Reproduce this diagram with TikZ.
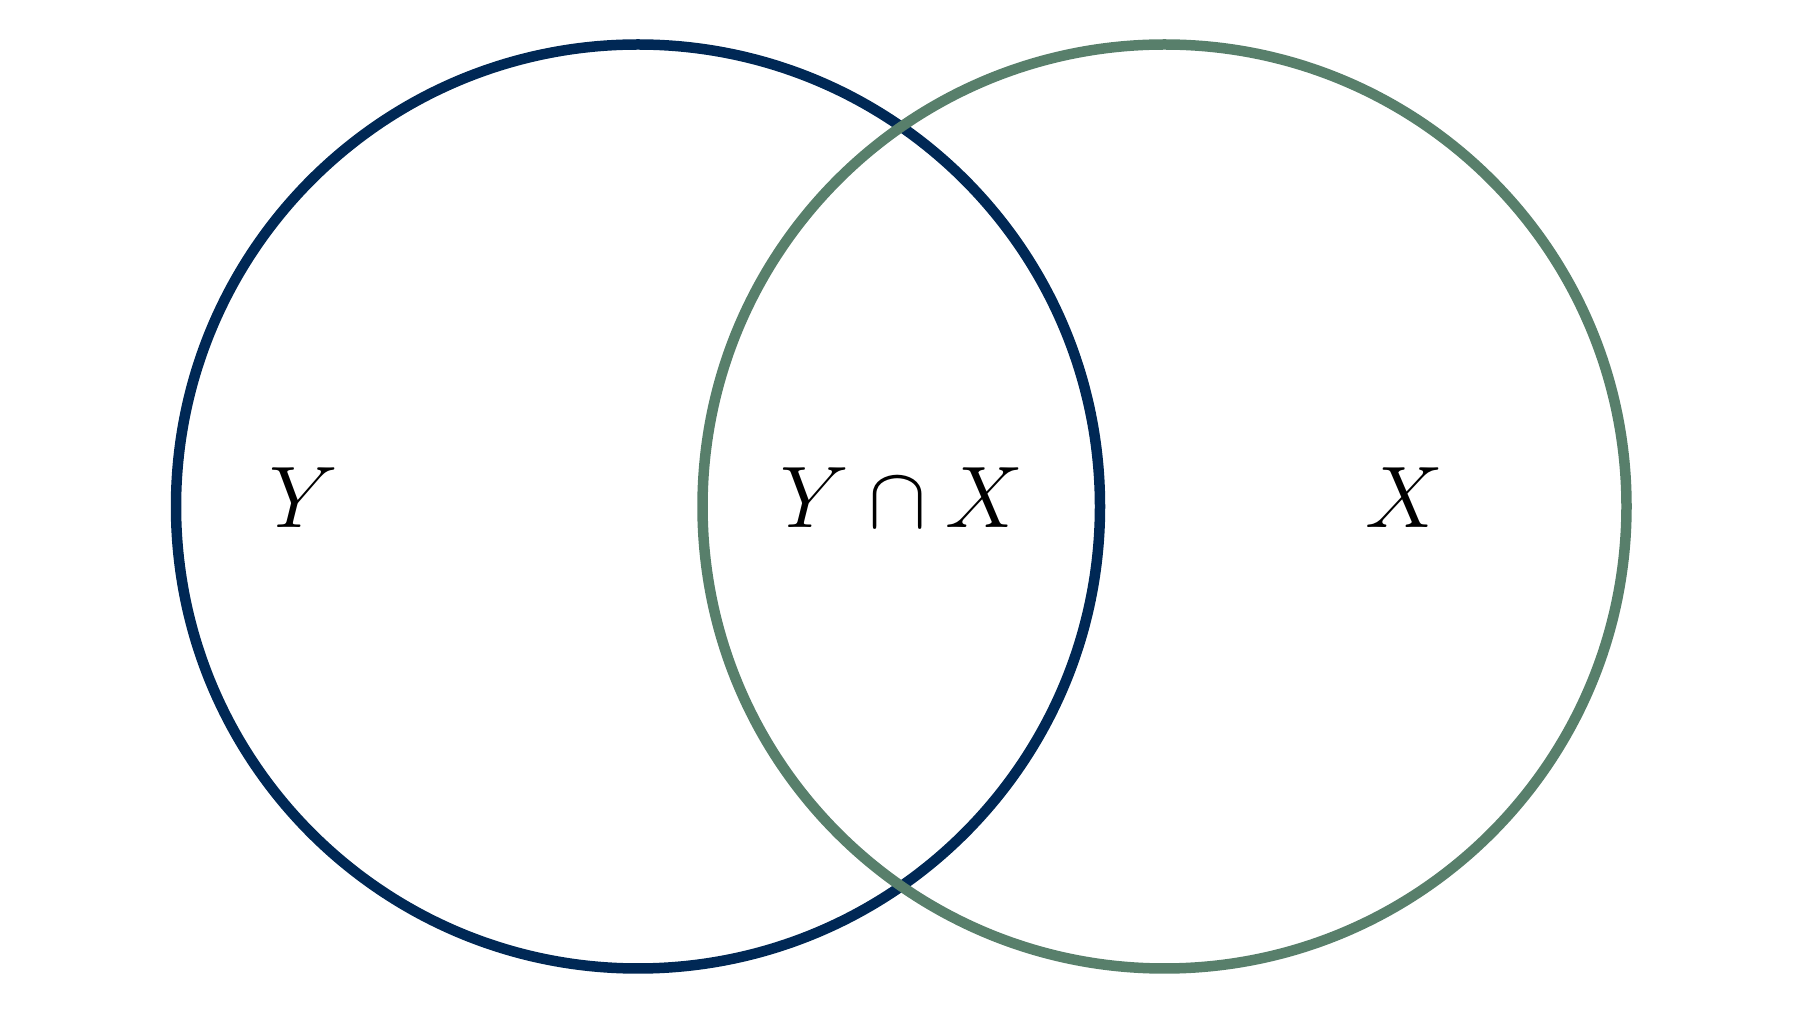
\documentclass[tikz,border=0pt]{standalone}
\usepackage{tikz}

\definecolor{setY}{RGB}{0,40,85}
\definecolor{setX}{RGB}{88,127,107}

\begin{document}
\begin{tikzpicture}[auto]
    \def\R{4.62} \def\w{.105}
    \useasboundingbox (0, 0) rectangle (18.01, 10.13);
    \coordinate (cY) at (6.38, 5.065);
    \coordinate (cX) at (11.645, 5.065);

    \draw [setY, line width=\w cm] (cY) circle (\R);
    \draw [setX, line width=\w cm] (cX) circle (\R);

    \node (labY) at (3.04, 4.85) [anchor=base] {\fontsize{25}{30}\selectfont $Y$};
    \node (labYX) at (9.02, 4.85) [anchor=base] {\fontsize{25}{30}\selectfont $Y \cap X$};
    \node (labX) at (14.04, 4.85) [anchor=base] {\fontsize{25}{30}\selectfont $X$};
\end{tikzpicture}
\end{document}
